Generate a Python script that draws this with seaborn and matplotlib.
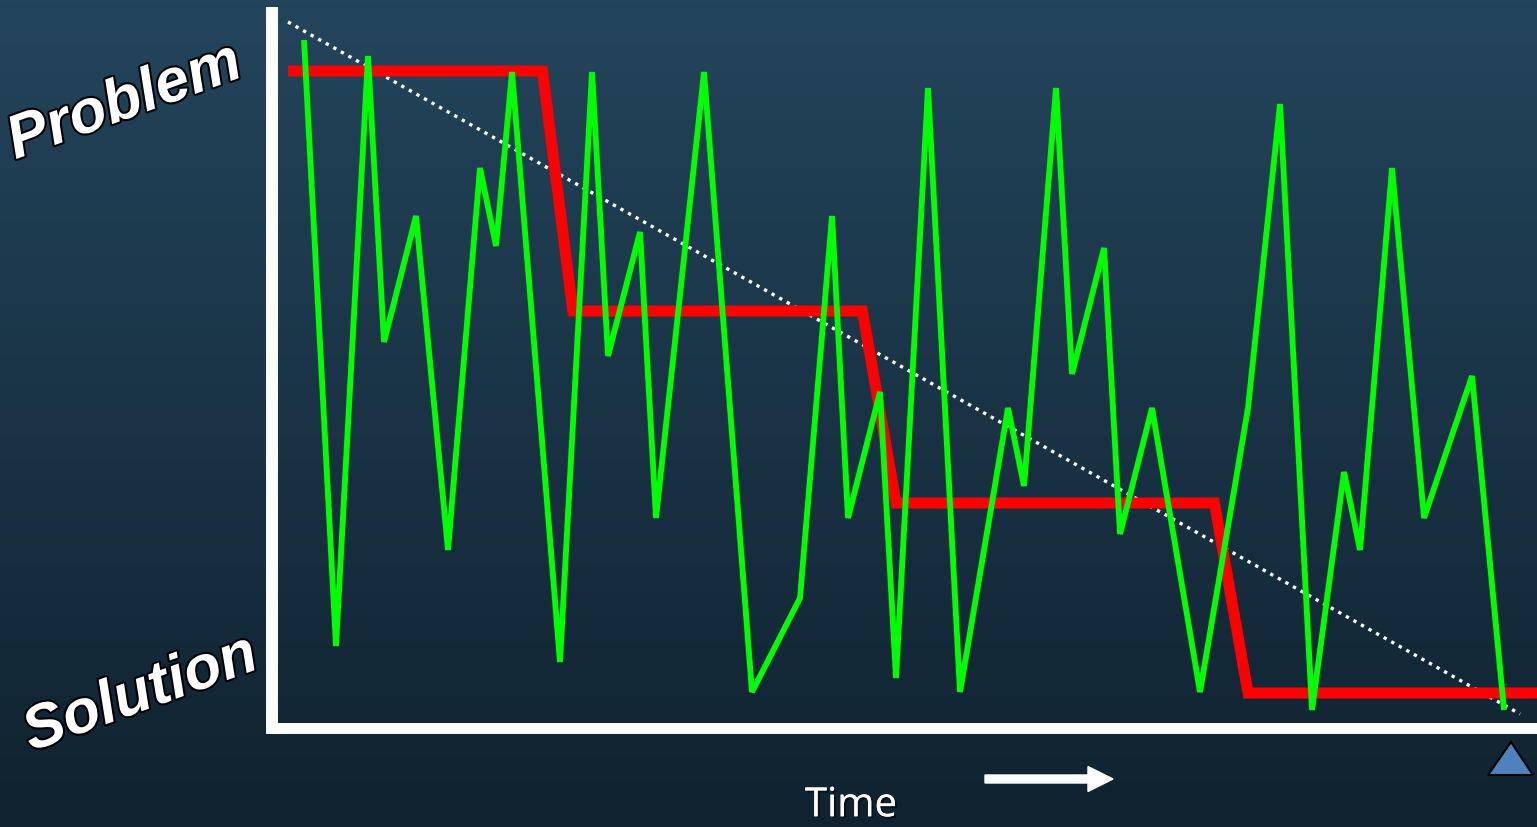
import numpy as np
import pandas as pd
import matplotlib
matplotlib.use("Agg")
import matplotlib.pyplot as plt
import matplotlib.patheffects as pe
from matplotlib.patches import FancyArrow, Polygon
from matplotlib.transforms import IdentityTransform
import seaborn as sns

# ---- data -------------------------------------------------------------
# erratic day-to-day performance (green)
swing_t = [1, 3, 5, 6, 8, 10, 12, 13, 14, 17, 19, 20, 22, 23, 26, 29, 32, 34,
           35, 37, 38, 40, 42, 45, 46, 48, 49, 51, 52, 54, 57, 60, 62, 64, 66,
           67, 69, 71, 74, 76]
swing_v = [686, 80, 670, 384, 510, 176, 558, 480, 654, 64, 654, 370, 494, 208,
           654, 34, 128, 510, 208, 334, 48, 638, 34, 318, 240, 638, 352, 478,
           192, 318, 34, 318, 622, 16, 254, 176, 558, 208, 350, 16]

# stepwise improvement (red)
step_t = [0, 15.9, 17.8, 35.9, 38.0, 57.9, 60.0, 78.1]
step_v = [655, 655, 415, 415, 223, 223, 33, 33]

# overall trend (white dotted)
trend_t = [0, 77]
trend_v = [704, 12]

y_top_label = "Problem"
y_bottom_label = "Solution"
x_label = "Time"

# ---- figure -----------------------------------------------------------
W, H, DPI = 1537, 827, 100
sns.set_style("white")
plt.rcParams["font.family"] = ["DejaVu Sans"]

fig = plt.figure(figsize=(W / DPI, H / DPI), dpi=DPI)

# vertical background gradient
bg = fig.add_axes([0, 0, 1, 1], zorder=0)
top = np.array([35, 69, 92]) / 255
bottom = np.array([16, 34, 47]) / 255
f = np.linspace(0, 1, 256)[:, None]
grad = (top[None, :] * (1 - f) + bottom[None, :] * f)[:, None, :]
bg.imshow(grad, aspect="auto", extent=[0, 1, 0, 1])
bg.set_axis_off()

ax = fig.add_axes([0, 0, 1, 1], zorder=1)
ax.set_facecolor("none")

swing = pd.DataFrame({"t": swing_t, "v": swing_v})
step = pd.DataFrame({"t": step_t, "v": step_v})
trend = pd.DataFrame({"t": trend_t, "v": trend_v})

sns.lineplot(data=trend, x="t", y="v", ax=ax, color="white", linewidth=2.4,
             linestyle=(0, (1, 1.6)), sort=False, zorder=2)
sns.lineplot(data=step, x="t", y="v", ax=ax, color="#ff0000", linewidth=8.0,
             sort=False, zorder=3, solid_joinstyle="miter",
             solid_capstyle="butt")
sns.lineplot(data=swing, x="t", y="v", ax=ax, color="#00ff00", linewidth=4.2,
             sort=False, zorder=4, solid_joinstyle="bevel",
             solid_capstyle="butt")

ax.set_xlim(-18, 78.06)
ax.set_ylim(-101, 726)
ax.set_xticks([])
ax.set_yticks([])
ax.set_xlabel("")
ax.set_ylabel("")

for side in ("top", "right"):
    ax.spines[side].set_visible(False)
ax.spines["left"].set_position(("data", -1.0))
ax.spines["left"].set_bounds(-1.5, 713)
ax.spines["left"].set_linewidth(8.6)
ax.spines["left"].set_color("white")
ax.spines["bottom"].set_position(("data", -1.5))
ax.spines["bottom"].set_bounds(-1.0, 78.06)
ax.spines["bottom"].set_linewidth(7.9)
ax.spines["bottom"].set_color("white")
for sp in ("left", "bottom"):
    ax.spines[sp].set_zorder(1)

# axis end labels
outline = [pe.withStroke(linewidth=3, foreground="black")]
label_kw = dict(color="white", fontsize=44, fontweight="bold", fontstyle="italic",
                family=["Liberation Sans", "DejaVu Sans"],
                ha="center", va="center", rotation=20, rotation_mode="anchor",
                path_effects=outline)
fig.text(125 / W, 1 - 103 / H, y_top_label, **label_kw)
fig.text(141 / W, 1 - 695 / H, y_bottom_label, **label_kw)

fig.text(851 / W, 1 - 806 / H, x_label, color="white", fontsize=29,
         family=["Open Sans", "DejaVu Sans"], ha="center", va="center",
         path_effects=[pe.withSimplePatchShadow(offset=(1.5, -1.5),
                                                shadow_rgbFace="black", alpha=0.5),
                       pe.Normal()])

# direction-of-time arrow and marker
fig.patches.append(FancyArrow(985, H - 779, 128, 0, width=8, head_width=25,
                              head_length=25, length_includes_head=True,
                              color="white", transform=IdentityTransform(),
                              figure=fig))
fig.patches.append(Polygon([(1488, H - 775), (1533, H - 775), (1511, H - 742)],
                           closed=True, facecolor="#4f81bd", edgecolor="black",
                           linewidth=1.5, transform=IdentityTransform(),
                           figure=fig))

fig.savefig("out.png", dpi=DPI)
